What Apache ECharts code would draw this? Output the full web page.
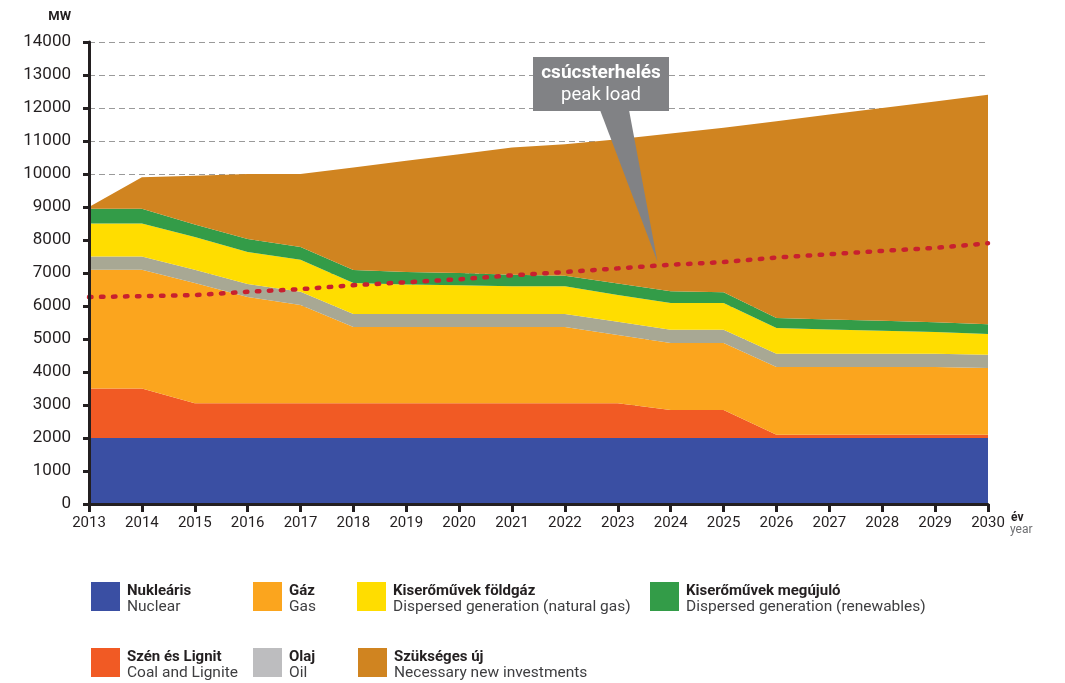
<!DOCTYPE html>
<html>
<head>
<meta charset="utf-8">
<script src="https://cdn.jsdelivr.net/npm/echarts@6/dist/echarts.min.js"></script>
<style>
html,body{margin:0;padding:0;background:#fff;}
#chart{width:1065px;height:683px;}
</style>
</head>
<body>
<div id="chart"></div>
<script>
// ---- data ----
var years = ['2013','2014','2015','2016','2017','2018','2019','2020','2021','2022','2023','2024','2025','2026','2027','2028','2029','2030'];
var yTicks = [0,1000,2000,3000,4000,5000,6000,7000,8000,9000,10000,11000,12000,13000,14000];
var nuclear = [2000,2000,2000,2000,2000,2000,2000,2000,2000,2000,2000,2000,2000,2000,2000,2000,2000,2000];
var coal = [1500,1500,1050,1050,1050,1050,1050,1050,1050,1050,1050,850,850,100,100,100,100,100];
var gas = [3600,3600,3650,3220,2980,2310,2310,2310,2310,2310,2070,2030,2030,2050,2050,2050,2050,2020];
var oil = [400,400,400,400,400,400,400,400,400,400,400,400,400,400,400,400,400,400];
var dispGas = [1000,1000,990,970,970,940,890,870,840,840,810,810,810,780,740,700,660,630];
var dispRen = [450,450,380,390,390,390,380,370,350,320,350,360,330,310,300,300,300,300];
var newInv = [50,950,1480,1970,2210,3110,3370,3600,3850,3980,4370,4780,4980,5960,6210,6450,6690,6950];
var peakLoad = [6270,6300,6330,6430,6510,6630,6720,6810,6930,7030,7140,7250,7330,7470,7570,7670,7760,7900];

var names = {
  nuclear: ['Nukleáris','Nuclear'],
  coal: ['Szén és Lignit','Coal and Lignite'],
  gas: ['Gáz','Gas'],
  oil: ['Olaj','Oil'],
  dispGas: ['Kiserőművek földgáz','Dispersed generation (natural gas)'],
  dispRen: ['Kiserőművek megújuló','Dispersed generation (renewables)'],
  newInv: ['Szükséges új','Necessary new investments']
};
var colors = {
  nuclear:'#3A4FA3', coal:'#F15A24', gas:'#FBA51E', oil:'#A8A894',
  dispGas:'#FFDD00', dispRen:'#339C48', newInv:'#D08420'
};
var legendColors = {oil:'#BDBDBF'};

var FONT = 'Roboto, "Noto Sans", sans-serif';
var DARK = '#231F20';

function areaSeries(key, data){
  return {
    name: names[key][0],
    type: 'line',
    stack: 'total',
    data: data,
    symbol: 'none',
    lineStyle: {width: 0, opacity: 0},
    areaStyle: {color: colors[key], opacity: 1},
    itemStyle: {color: colors[key]},
    emphasis: {disabled: true},
    silent: true,
    z: 2
  };
}

function legendFor(key, left, top){
  return {
    data: [{name: names[key][0], icon: 'rect', itemStyle: {color: legendColors[key] || colors[key]}}],
    left: left, top: top, padding: 0,
    itemWidth: 29, itemHeight: 29,
    selectedMode: false,
    formatter: function(){ return '{b|' + names[key][0] + '}\n{r|' + names[key][1] + '}'; },
    textStyle: {
      fontFamily: FONT, padding: [6,0,0,2],
      rich: {
        b: {fontFamily: FONT, fontSize: 15, fontWeight: 'bold', color: DARK, lineHeight: 16},
        r: {fontFamily: FONT, fontSize: 15.5, color: '#3E3E40', lineHeight: 16}
      }
    }
  };
}

var chart = echarts.init(document.getElementById('chart'), null, {renderer: 'canvas'});
var option = {
  animation: false,
  backgroundColor: '#ffffff',
  textStyle: {fontFamily: FONT},
  grid: {left: 89, right: 77, top: 42, bottom: 179, containLabel: false},
  xAxis: [{
    type: 'category',
    data: years,
    boundaryGap: false,
    z: 10,
    axisLine: {show: true, lineStyle: {color: DARK, width: 3}},
    axisTick: {show: true, alignWithLabel: true, length: 8, lineStyle: {color: DARK, width: 3}},
    axisLabel: {fontFamily: FONT, fontSize: 15, color: DARK, margin: 12},
    splitLine: {show: false}
  }],
  yAxis: [{
    type: 'value', min: yTicks[0], max: yTicks[yTicks.length-1], interval: 1000,
    z: 0,
    axisLine: {show: false}, axisTick: {show: false}, axisLabel: {show: false},
    splitLine: {show: true, lineStyle: {color: '#9A9A9A', width: 1, type: [6,4]}}
  },{
    type: 'value', min: yTicks[0], max: yTicks[yTicks.length-1], interval: 1000,
    position: 'left',
    z: 10,
    axisLine: {show: true, lineStyle: {color: DARK, width: 3}},
    axisTick: {show: true, length: 6, lineStyle: {color: DARK, width: 3}},
    axisLabel: {fontFamily: FONT, fontSize: 17, color: DARK, margin: 18, formatter: function(v){ return String(v); }},
    splitLine: {show: false}
  }],
  legend: [
    legendFor('nuclear', 91, 582),
    legendFor('gas', 253, 582),
    legendFor('dispGas', 357, 582),
    legendFor('dispRen', 650, 582),
    legendFor('coal', 91, 648),
    legendFor('oil', 253, 648),
    legendFor('newInv', 358, 648)
  ],
  series: [
    areaSeries('nuclear', nuclear),
    areaSeries('coal', coal),
    areaSeries('gas', gas),
    areaSeries('oil', oil),
    areaSeries('dispGas', dispGas),
    areaSeries('dispRen', dispRen),
    areaSeries('newInv', newInv),
    {
      name: 'peak load',
      type: 'line',
      data: peakLoad,
      symbol: 'none',
      silent: true,
      z: 5,
      lineStyle: {color: '#C8202F', width: 4.5, type: [2.5, 9.5], cap: 'round'}
    }
  ]
};
chart.setOption(option);

// annotation callout pointing at the peak-load line
var p10 = chart.convertToPixel({xAxisIndex: 0, yAxisIndex: 0}, [10, peakLoad[10]]);
var p11 = chart.convertToPixel({xAxisIndex: 0, yAxisIndex: 0}, [11, peakLoad[11]]);
var f = 0.75;
var tipX = p10[0] + (p11[0]-p10[0])*f;
var tipY = p10[1] + (p11[1]-p10[1])*f - 4;

chart.setOption({
  graphic: [
    {type: 'text', x: 71, y: 17, style: {text: 'MW', fill: DARK, font: 'bold 13px ' + FONT, align: 'right', verticalAlign: 'middle'}},
    {type: 'text', x: 1011, y: 518, style: {text: 'év', fill: DARK, font: 'bold 12px ' + FONT, align: 'left', verticalAlign: 'middle'}},
    {type: 'text', x: 1010, y: 530, style: {text: 'year', fill: '#6D6E71', font: '12px ' + FONT, align: 'left', verticalAlign: 'middle'}},
    {type: 'polygon', z: 20, shape: {points: [[600,110],[629,110],[tipX, tipY]]}, style: {fill: '#818285'}},
    {type: 'rect', z: 20, shape: {x: 533, y: 57, width: 136, height: 54}, style: {fill: '#818285'}},
    {type: 'text', z: 21, x: 601, y: 73, style: {text: 'csúcsterhelés', fill: '#ffffff', font: 'bold 19px ' + FONT, align: 'center', verticalAlign: 'middle'}},
    {type: 'text', z: 21, x: 601, y: 95, style: {text: 'peak load', fill: '#ffffff', font: '18.5px ' + FONT, align: 'center', verticalAlign: 'middle'}}
  ]
});
</script>
</body>
</html>
